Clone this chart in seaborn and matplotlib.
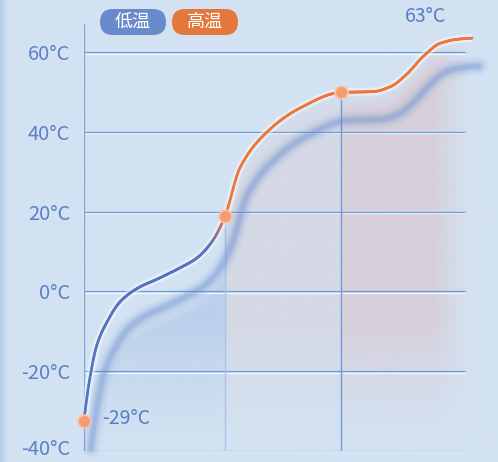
import numpy as np
import pandas as pd
import matplotlib
matplotlib.use("Agg")
import matplotlib.pyplot as plt
import seaborn as sns
from matplotlib.collections import LineCollection
from matplotlib.patches import FancyBboxPatch
from matplotlib.transforms import IdentityTransform, ScaledTranslation
from matplotlib.colors import to_rgb

sns.set_theme(style="white")
plt.rcParams["font.family"] = ["Noto Sans CJK SC", "DejaVu Sans"]

# ---------------- data ----------------
x_pos = [0, 1.5, 3.3, 5.9, 9.3, 13.6, 19.1, 24.7, 29.1, 33.2, 36.3,
         40.2, 47.2, 55.7, 66.2, 74.5, 78.9, 83.2, 87.4, 91.8, 96.1, 100]
temps = [-32.4, -21.8, -13.5, -7.7, -2.6, 0.7, 3.2, 5.9, 8.4, 12.8, 18.8,
         31, 40, 46, 49.9, 50.1, 51.3, 54.5, 58.9, 62.2, 63.2, 63.5]
marker_idx = [0, 10, 14]
y_ticks = [-40, -20, 0, 20, 40, 60]
y_tick_labels = ["-40°C", "-20°C", "0°C", "20°C", "40°C", "60°C"]
legend_names = ["低温", "高温"]
point_labels = ["-29°C", "63°C"]

BLUE = "#5275c4"
ORANGE = "#ea7940"
YMIN, YMAX = -40, 67.3
XMAX_GRID = 98.2


def pchip(x, y, xn):
    x = np.asarray(x, float); y = np.asarray(y, float)
    h = np.diff(x); d = np.diff(y) / h
    n = len(x); m = np.zeros(n)
    for k in range(1, n - 1):
        if d[k - 1] * d[k] > 0:
            w1 = 2 * h[k] + h[k - 1]; w2 = h[k] + 2 * h[k - 1]
            m[k] = (w1 + w2) / (w1 / d[k - 1] + w2 / d[k])

    def end(h0, h1, d0, d1):
        s = ((2 * h0 + h1) * d0 - h0 * d1) / (h0 + h1)
        if np.sign(s) != np.sign(d0):
            s = 0.0
        elif np.sign(d0) != np.sign(d1) and abs(s) > abs(3 * d0):
            s = 3 * d0
        return s

    m[0] = end(h[0], h[1], d[0], d[1])
    m[-1] = end(h[-1], h[-2], d[-1], d[-2])
    xn = np.asarray(xn, float)
    idx = np.clip(np.searchsorted(x, xn) - 1, 0, n - 2)
    t = (xn - x[idx]) / h[idx]
    h00 = 2 * t**3 - 3 * t**2 + 1
    h10 = t**3 - 2 * t**2 + t
    h01 = -2 * t**3 + 3 * t**2
    h11 = t**3 - t**2
    return h00 * y[idx] + h10 * h[idx] * m[idx] + h01 * y[idx + 1] + h11 * h[idx] * m[idx + 1]


df = pd.DataFrame({"x": x_pos, "t": temps})
xd = np.linspace(df.x.min(), df.x.max(), 900)
yd = pchip(df.x, df.t, xd)

fig = plt.figure(figsize=(4.98, 4.62), dpi=100)
fig.patch.set_facecolor("#d3e2f2")

# background with darker left edge
bg = fig.add_axes([0, 0, 1, 1], zorder=-5)
bg.set_axis_off()
W = 498
cols = np.arange(W)
base = np.array(to_rgb("#d3e2f2"))
edge = np.array([180, 205, 233]) / 255
f = np.clip(1 - cols / 7.0, 0, 1)[:, None]
row = base * (1 - f) + edge * f
bgimg = np.repeat(row[None, :, :], 10, axis=0)
bg.imshow(bgimg, extent=[0, 1, 0, 1], aspect="auto")
bg.set_xlim(0, 1); bg.set_ylim(0, 1)

ax = fig.add_axes([84 / 498, 11 / 462, 388 / 498, 428 / 462])
ax.set_facecolor("none")
for s in ax.spines.values():
    s.set_visible(False)

# ---------------- soft area under curve ----------------
dx, dy = 1.8, -7.0
m1x = df.x[marker_idx[1]]
m2x = df.x[marker_idx[2]]
nx, ny = 700, 520
gx = np.linspace(0, 100, nx)
gy = np.linspace(YMIN, YMAX, ny)
main_top = pchip(df.x, df.t, gx)
shadow_top = np.interp(gx, xd + dx, yd + dy, left=-40, right=yd[-1] + dy)
top = np.where(gx < m1x, shadow_top, main_top)
c_left = np.array([180, 203, 233]) / 255
c_mid = np.array([213, 215, 226]) / 255
c_right = np.array([217, 203, 213]) / 255
w_mid = np.clip((gx - (m1x - 0.8)) / 1.6, 0, 1)
w_right = np.clip((gx - (m2x - 0.8)) / 1.6, 0, 1)
colc = c_left * (1 - w_mid)[:, None] + c_mid * w_mid[:, None]
colc = colc * (1 - w_right)[:, None] + c_right * w_right[:, None]
X, Y = np.meshgrid(gx, gy)
a_top = np.clip((top[None, :] - Y) / 5.0, 0, 1)
a_v = np.clip((Y + 38) / 30, 0, 1) ** 1.2
a_h = np.clip((99.5 - X) / 10, 0, 1)
amax = np.where(gx < m1x, 0.75, 0.8)[None, :]
alpha = amax * a_top * a_v * a_h
img = np.zeros((ny, nx, 4))
img[..., :3] = colc[None, :, :]
img[..., 3] = alpha
ax.imshow(img, extent=[0, 100, YMIN, YMAX], origin="lower", aspect="auto",
          interpolation="bilinear", zorder=1)

# ---------------- grid lines ----------------
for yv in y_ticks:
    ax.hlines(yv - 0.4, 0, XMAX_GRID, color="#f3f7fc", lw=0.9, zorder=2)
    ax.hlines(yv, 0, XMAX_GRID, color="#6c9bd7", lw=0.9, zorder=2.1)
ax.vlines(0, YMIN, YMAX, color="#7fa6dc", lw=1.0, zorder=2.2)
ax.vlines(m1x, YMIN, df.t[marker_idx[1]], color="#a9c4e5", lw=1.0, zorder=2.2)
ax.vlines(m2x, YMIN, df.t[marker_idx[2]], color="#6c9bd7", lw=1.0, zorder=2.2)

# ---------------- blurred shadow line ----------------
sh = pd.DataFrame({"x": xd + dx, "y": yd + dy})
for lw, a in [(14, 0.04), (11, 0.055), (8.5, 0.075), (6.5, 0.1), (4.5, 0.13), (3, 0.15)]:
    sns.lineplot(data=sh, x="x", y="y", ax=ax, color="#6189cf", lw=lw, alpha=a,
                 sort=False, estimator=None, zorder=3, clip_on=False)

# ---------------- main line (blue -> orange) ----------------
ax.plot(xd, yd, color="white", lw=6, alpha=0.35, zorder=4, solid_capstyle="round")
ax.plot(xd, yd, color="white", lw=3.8, alpha=0.35, zorder=4, solid_capstyle="round")
pts = np.column_stack([xd, yd])
segs = np.stack([pts[:-1], pts[1:]], axis=1)
ym = (yd[:-1] + yd[1:]) / 2
tt = np.clip((ym - 11) / (19 - 11), 0, 1)[:, None]
cols_line = np.array(to_rgb(BLUE)) * (1 - tt) + np.array(to_rgb(ORANGE)) * tt
lc = LineCollection(segs, colors=cols_line, linewidths=1.9, zorder=5, capstyle="round")
lc.set_clip_on(False)
ax.add_collection(lc)

# markers
mk = df.iloc[marker_idx]
sns.scatterplot(data=mk, x="x", y="t", ax=ax, s=85, color="#f29c74",
                edgecolor="#f8c6aa", linewidth=1.2, zorder=6, clip_on=False, legend=False)

# point labels
ax.text(4.6, df.t.iloc[0] + 0.6, point_labels[0], color="#5a7cc4", fontsize=14,
        ha="left", va="center", zorder=7)
ax.text(88.1, 68.9, point_labels[1], color="#5a7cc4", fontsize=14,
        ha="center", va="center", zorder=7, clip_on=False)

# axes setup
ax.set_xlim(0, 100)
ax.set_ylim(YMIN, YMAX)
ax.set_xticks([])
ax.set_yticks(y_ticks)
ax.set_yticklabels(y_tick_labels, color="#5b80c8", fontsize=14.5)
ax.tick_params(axis="y", length=0, pad=10)
ax.set_xlabel("")
ax.set_ylabel("")
lab0 = ax.get_yticklabels()[0]
lab0.set_transform(lab0.get_transform() + ScaledTranslation(0, 4 / 100, fig.dpi_scale_trans))

# legend pills
pill_cols = [("#6a8bcb", 100), ("#e3773c", 172)]
for (c, x0), name in zip(pill_cols, legend_names):
    p = FancyBboxPatch((x0, 427), 66, 26, boxstyle="round,pad=0,rounding_size=13",
                       transform=IdentityTransform(), facecolor=c, edgecolor="none",
                       zorder=10)
    fig.patches.append(p)
    fig.text(x0 + 33, 440, name, transform=IdentityTransform(), color="white",
             fontsize=13, ha="center", va="center", zorder=11)

fig.savefig("out.png", dpi=100)
